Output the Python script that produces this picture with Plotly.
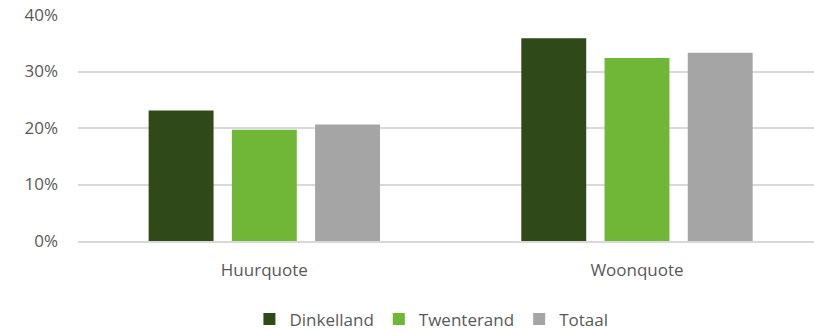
import plotly.graph_objects as go

categories = ["Huurquote", "Woonquote"]
series_names = ["Dinkelland", "Twenterand", "Totaal"]
dinkelland = [0.231, 0.359]
twenterand = [0.197, 0.324]
totaal = [0.206, 0.333]
colors = ["#304918", "#70B738", "#A5A5A5"]
y_ticks = [0, 0.1, 0.2, 0.3, 0.4]
y_tick_labels = ["0%", "10%", "20%", "30%", "40%"]

values = [dinkelland, twenterand, totaal]

fig = go.Figure()
for name, vals, col in zip(series_names, values, colors):
    fig.add_trace(go.Bar(
        x=categories, y=vals, name=name,
        marker=dict(color=col, line=dict(width=0)),
    ))

font_family = "Open Sans, Noto Sans, sans-serif"
fig.update_layout(
    width=814, height=331,
    margin=dict(l=78, r=0, t=15, b=90),
    paper_bgcolor="white", plot_bgcolor="white",
    barmode="group", bargap=0.33, bargroupgap=0.22,
    font=dict(family=font_family, size=17, color="#595959"),
    showlegend=True,
    legend=dict(
        orientation="h", xref="container", yref="container",
        x=0.53, xanchor="center", y=0.035, yanchor="middle",
        font=dict(size=17, color="#595959"),
        itemwidth=30, traceorder="normal",
    ),
    xaxis=dict(
        range=[-0.5, 1.475], showgrid=False, showline=True,
        linecolor="#D9D9D9", linewidth=1.5, ticks="",
        tickfont=dict(size=17, color="#595959"), ticklabelstandoff=13,
    ),
    yaxis=dict(
        range=[0, 0.4], tickvals=y_ticks, ticktext=y_tick_labels,
        showgrid=True, gridcolor="#D9D9D9", gridwidth=1.5,
        zeroline=False, showline=False,
        tickfont=dict(size=17, color="#595959"), ticklabelstandoff=19,
    ),
)

fig.write_html("out.html")
